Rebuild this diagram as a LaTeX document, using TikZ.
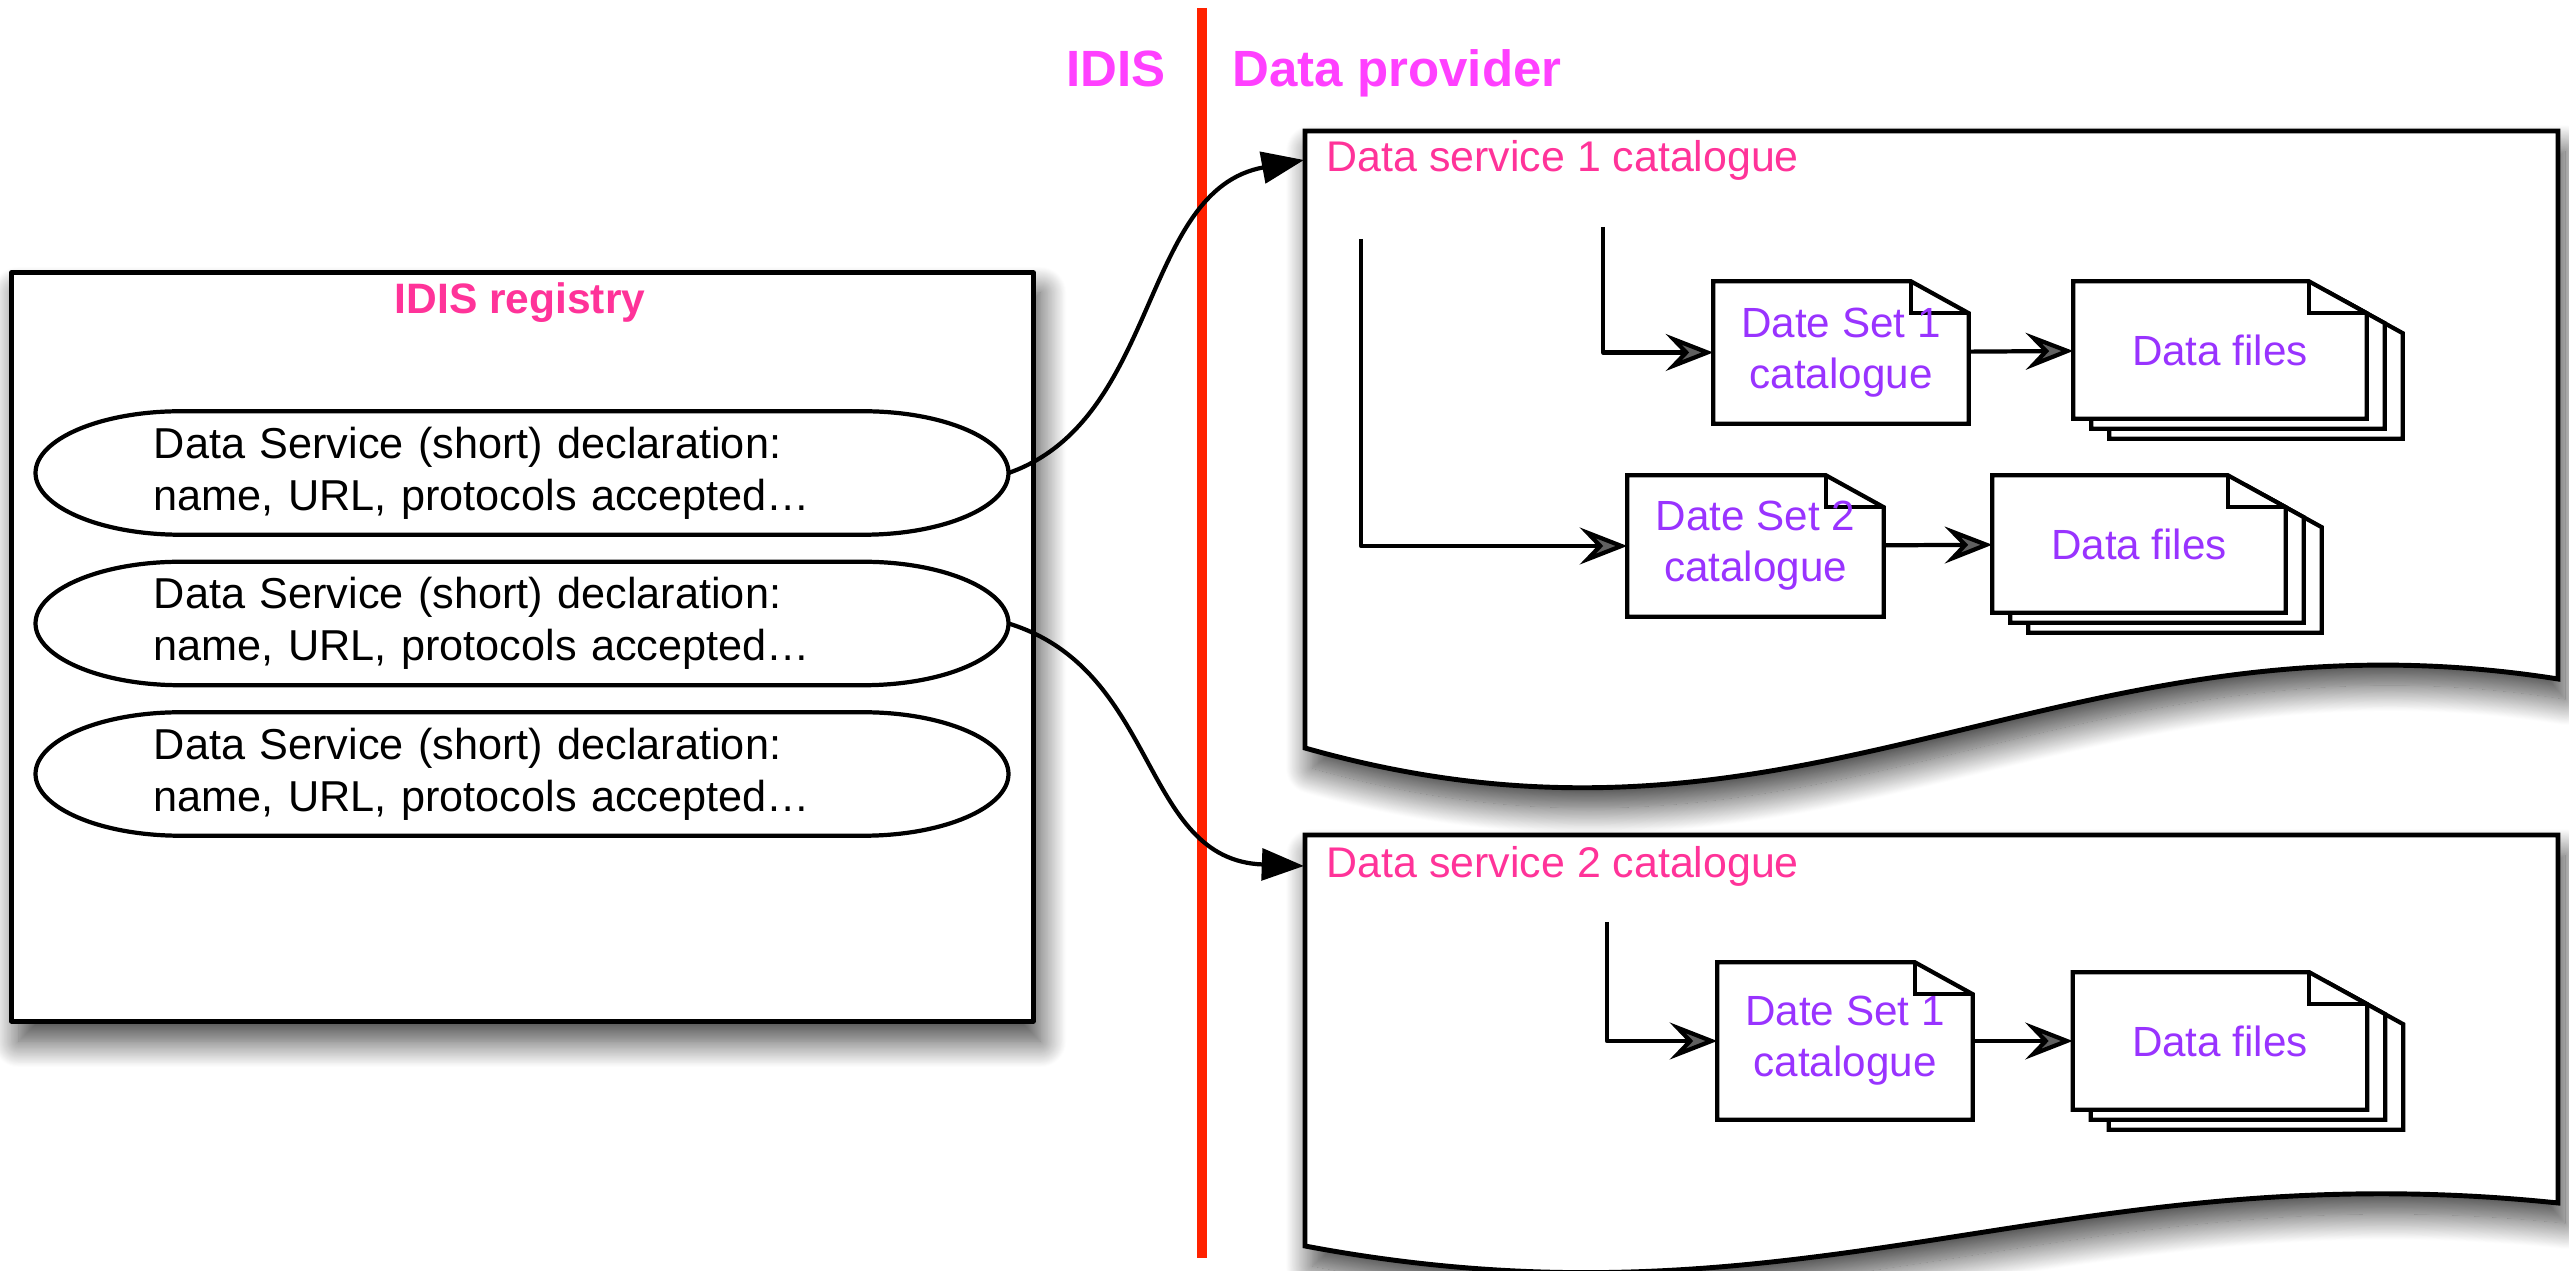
\documentclass[tikz,border=0pt]{standalone}
\usepackage{fontspec}
\setmainfont{Liberation Sans}
\usepackage{tikz}
\usetikzlibrary{arrows.meta}
\usetikzlibrary{calc}
\usetikzlibrary{backgrounds}
\usetikzlibrary{shadows.blur}

\pgfdeclarelayer{sheets}
\pgfsetlayers{background,sheets,main}

\definecolor{splitred}{RGB}{255,34,0}
\definecolor{sidemagenta}{RGB}{255,64,255}
\definecolor{titlepink}{RGB}{255,51,153}
\definecolor{setpurple}{RGB}{153,51,255}

\tikzset{%
  panel/.style={draw, fill=white, line width=1.4pt,
    blur shadow={shadow xshift=0.07cm, shadow yshift=-0.2cm,
      shadow blur radius=0.26cm, shadow blur steps=30, shadow opacity=75}},
  decl/.style={rectangle, inner sep=0, minimum width=9.71cm, minimum height=1.22cm,
    text width=7.36cm, align=left, font=\fontsize{12.3pt}{14.7pt}\selectfont},
  sheet/.style={rectangle, inner sep=0, align=center, text=setpurple,
    font=\fontsize{12pt}{14.5pt}\selectfont},
  paper/.style={draw, fill=white, line width=1.2pt},
  dogear/.style={insert path={
    (#1.north west) -- ($(#1.north east)+(-58,0)$) -- ($(#1.north east)+(0,32)$)
    -- (#1.south east) -- (#1.south west) -- cycle}},
  fold/.style={insert path={
    ($(#1.north east)+(-58,0)$) |- ($(#1.north east)+(0,32)$)}},
  flow/.style={line width=1.2pt, -{Stealth[length=13.5pt,width=10.5pt,inset=5pt]}},
  link/.style={line width=1.2pt, -{Triangle[length=12pt,width=9pt,fill=black]}},
  catlabel/.style={anchor=west, inner xsep=0.22cm, inner ysep=0, text=titlepink,
    font=\fontsize{12.2pt}{14.6pt}\selectfont},
  side/.style={anchor=base west, inner sep=0, text=sidemagenta,
    font=\fontsize{14.5pt}{17pt}\selectfont\bfseries}
}

\begin{document}
\begin{tikzpicture}[x=0.01cm, y=-0.01cm, line join=round]
\useasboundingbox (0,0) rectangle (2569,1271);

\node[panel, minimum width=10.21cm, minimum height=7.48cm] (registry) at (522.5,647) {};
\node[text=titlepink, font=\fontsize{12.1pt}{14pt}\selectfont\bfseries] (regtitle) at (520,303) {IDIS registry};
\foreach \n/\y in {decl1/473, decl2/623.5, decl3/774}
  \node[decl] (\n) at (522,\y) {Data Service (short) declaration:\\name, URL, protocols accepted…};
\foreach \n in {decl1,decl2,decl3}
  \draw[line width=1.2pt] ([xshift=1.45cm]\n.north west) -- ([xshift=-1.45cm]\n.north east)
    .. controls +(0.8cm,0) and +(0,0.337cm) .. (\n.east)
    .. controls +(0,-0.337cm) and +(0.8cm,0) .. ([xshift=-1.45cm]\n.south east)
    -- ([xshift=1.45cm]\n.south west)
    .. controls +(-0.8cm,0) and +(0,-0.337cm) .. (\n.west)
    .. controls +(0,0.337cm) and +(-0.8cm,0) .. ([xshift=1.45cm]\n.north west) -- cycle;

\begin{pgfonlayer}{background}
\draw[panel] (1305,131) -- (2558,131) -- (2558,679)
  .. controls (2058,600) and (1805,890) .. (1305,748) -- cycle;
\draw[panel] (1305,835) -- (2558,835) -- (2558,1203)
  .. controls (2058,1151) and (1805,1340) .. (1305,1246) -- cycle;
\end{pgfonlayer}

\draw[splitred, line width=2.9pt] (1202,8) -- (1202,1258);
\node[side] (idis) at (1066,87) {IDIS};
\node[side] (provider) at (1232,87) {Data provider};

\node[catlabel] (cat1) at (1304,160) {Data service 1 catalogue};
\node[catlabel] (cat2) at (1304,866) {Data service 2 catalogue};

\node[sheet, minimum width=2.54cm, minimum height=1.41cm] (set11) at (1841,352.5) {Date Set 1\\catalogue};
\node[sheet, minimum width=2.55cm, minimum height=1.40cm] (set12) at (1755.5,546) {Date Set 2\\catalogue};
\node[sheet, minimum width=2.54cm, minimum height=1.56cm] (set21) at (1845,1041) {Date Set 1\\catalogue};
\node[sheet, minimum width=2.92cm, minimum height=1.36cm] (files11) at (2220,350) {Data files};
\node[sheet, minimum width=2.92cm, minimum height=1.36cm] (files12) at (2139,544) {Data files};
\node[sheet, minimum width=2.93cm, minimum height=1.36cm] (files21) at (2220,1041) {Data files};

\begin{pgfonlayer}{sheets}
\foreach \n in {files11,files12,files21} {
  \draw[paper, transform canvas={shift={(0.36cm,-0.2cm)}}] [dogear=\n];
  \draw[paper, transform canvas={shift={(0.18cm,-0.1cm)}}] [dogear=\n];
}
\foreach \n in {set11,set12,set21,files11,files12,files21} {
  \draw[paper] [dogear=\n];
  \draw[line width=1.2pt] [fold=\n];
}
\end{pgfonlayer}

\coordinate (in11) at (1603,227);
\coordinate (in12) at (1361,239);
\coordinate (in21) at (1607,922);
\draw[flow] (in11) |- (set11);
\draw[flow] (in12) |- (set12);
\draw[flow] (in21) |- (set21);
\draw[flow] (set11) -- (files11);
\draw[flow] (set12) -- (files12);
\draw[flow] (set21) -- (files21);

\draw[link] (decl1.east) .. controls (1160,420) and (1140,190) .. (cat1.west);
\draw[link] (decl2.east) .. controls (1160,670) and (1140,860) .. (cat2.west);
\end{tikzpicture}
\end{document}
